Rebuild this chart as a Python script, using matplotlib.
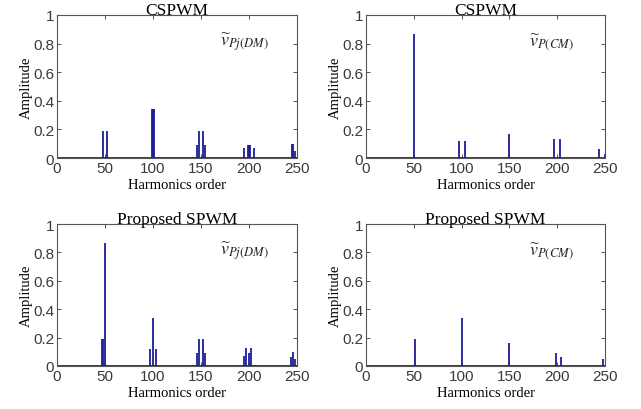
import numpy as np
import matplotlib.pyplot as plt

plt.rcParams['mathtext.fontset'] = 'stix'

# harmonic orders and amplitudes of each spectrum
cs_dm_order = [48, 52, 99, 100, 101, 146, 148, 152, 154, 195, 199, 200, 201, 205, 245, 246, 248]
cs_dm_amp = [0.19, 0.19, 0.34, 0.34, 0.34, 0.09, 0.19, 0.19, 0.09, 0.07, 0.09, 0.09, 0.09, 0.07, 0.1, 0.1, 0.05]

cs_cm_order = [50, 97, 103, 150, 197, 203, 244, 250]
cs_cm_amp = [0.87, 0.12, 0.12, 0.17, 0.13, 0.13, 0.065, 0.03]

pr_dm_order = [47, 48, 50, 97, 100, 103, 146, 148, 152, 154, 195, 197, 200, 202, 244, 246, 248]
pr_dm_amp = [0.19, 0.19, 0.87, 0.12, 0.34, 0.12, 0.09, 0.19, 0.19, 0.09, 0.07, 0.13, 0.09, 0.13, 0.065, 0.1, 0.05]

pr_cm_order = [51, 100, 150, 199, 204, 248]
pr_cm_amp = [0.19, 0.34, 0.165, 0.09, 0.066, 0.052]

titles = ['CSPWM', 'CSPWM', 'Proposed SPWM', 'Proposed SPWM']
tags = [r'$\widetilde{v}_{Pj(DM)}$', r'$\widetilde{v}_{P(CM)}$',
        r'$\widetilde{v}_{Pj(DM)}$', r'$\widetilde{v}_{P(CM)}$']
orders = [cs_dm_order, cs_cm_order, pr_dm_order, pr_cm_order]
amps = [cs_dm_amp, cs_cm_amp, pr_dm_amp, pr_cm_amp]

boxes = [[0.089, 0.612, 0.374, 0.349], [0.571, 0.612, 0.373, 0.349],
         [0.089, 0.105, 0.374, 0.346], [0.571, 0.105, 0.373, 0.346]]

line_c = '#1c1c98'
fig = plt.figure(figsize=(6.41, 4.10), dpi=100)

for box, t, tag, o, a in zip(boxes, titles, tags, orders, amps):
    ax = fig.add_axes(box)
    ax.vlines(o, 0, a, color=line_c, lw=1.3)
    ax.axhline(0, color=line_c, lw=2)
    ax.set_xlim(0, 250)
    ax.set_ylim(0, 1)
    ax.set_xticks(range(0, 251, 50))
    ax.set_yticks([0, 0.2, 0.4, 0.6, 0.8, 1])
    ax.set_yticklabels(['0', '0.2', '0.4', '0.6', '0.8', '1'])
    ax.tick_params(direction='in', length=3, width=0.6, top=True, right=True,
                   labelsize=11, colors='#3a3a3a', pad=2)
    for lab in ax.get_xticklabels() + ax.get_yticklabels():
        lab.set_family('Liberation Sans')
    for s in ax.spines.values():
        s.set_color('#555555')
        s.set_linewidth(0.8)
    ax.set_title(t, family='Liberation Serif', fontsize=12.5, pad=1)
    ax.set_xlabel('Harmonics order', family='Liberation Serif', fontsize=10.5, labelpad=2)
    ax.set_ylabel('Amplitude', family='Liberation Serif', fontsize=10.5, labelpad=0)
    ax.text(0.68, 0.79, tag, transform=ax.transAxes, fontsize=13, color='#222222')

fig.savefig('out.png', dpi=100)
